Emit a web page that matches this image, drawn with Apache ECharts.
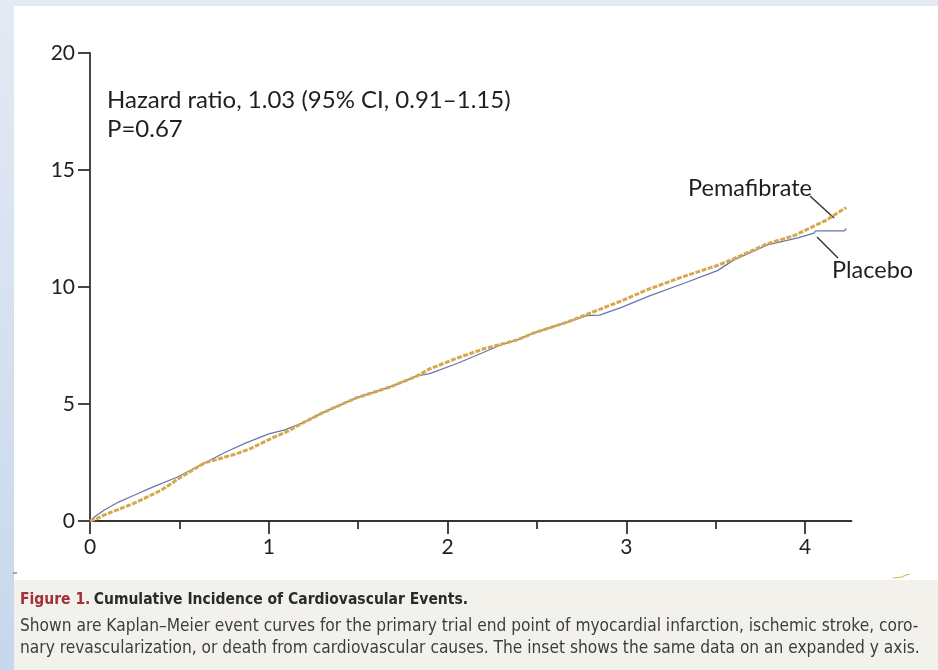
<!DOCTYPE html>
<html><head><meta charset="utf-8">
<script src="https://cdn.jsdelivr.net/npm/echarts@6/dist/echarts.min.js"></script>
<style>
html,body{margin:0;padding:0;width:938px;height:670px;overflow:hidden;background:linear-gradient(to bottom,#e4eaf3,#c7d7ec);}
#panel{position:absolute;left:14px;top:6px;width:924px;height:574px;background:#fff;}
#cap{position:absolute;left:14px;top:580px;width:924px;height:90px;background:#f3f1ec;}
#chart{position:absolute;left:0;top:0;width:938px;height:670px;}
</style></head><body>
<div id="panel"></div><div id="cap"></div><div id="chart"></div>
<script>
// Years since randomization and cumulative incidence (%)
const placeboYears = [0,0.03,0.08,0.16,0.25,0.35,0.49,0.64,0.76,0.87,1.0,1.09,1.19,1.30,1.49,1.68,1.83,1.90,2.05,2.20,2.29,2.39,2.48,2.67,2.78,2.85,2.97,3.13,3.32,3.51,3.60,3.79,3.96,4.05,4.06,4.22,4.23];
const placeboPct   = [0,0.2,0.47,0.81,1.11,1.45,1.88,2.48,2.95,3.33,3.72,3.89,4.19,4.62,5.26,5.73,6.2,6.3,6.72,7.2,7.5,7.74,8.03,8.5,8.78,8.8,9.12,9.62,10.15,10.7,11.15,11.8,12.1,12.3,12.4,12.4,12.5];
const pemaYears = [0,0.04,0.08,0.25,0.40,0.51,0.64,0.81,0.90,1.02,1.11,1.19,1.30,1.49,1.68,1.83,1.90,2.05,2.20,2.39,2.48,2.67,2.80,2.97,3.13,3.32,3.51,3.60,3.79,3.94,4.12,4.23];
const pemaPct   = [0,0.1,0.26,0.77,1.32,1.88,2.48,2.85,3.1,3.55,3.85,4.19,4.62,5.26,5.73,6.2,6.5,6.95,7.35,7.74,8.03,8.5,8.89,9.4,9.92,10.45,10.92,11.2,11.85,12.2,12.86,13.4];
const xMajorTicks = [0,1,2,3,4];
const xMinorTicks = [0.5,1.5,2.5,3.5];
const yTicks = [0,5,10,15,20];
const seriesNames = ['Placebo','Pemafibrate'];
const statLines = ['Hazard ratio, 1.03 (95% CI, 0.91\u20131.15)','P=0.67'];
const captionTitle = ['Figure 1.','Cumulative Incidence of Cardiovascular Events.'];
const captionBody = ['Shown are Kaplan\u2013Meier event curves for the primary trial end point of myocardial infarction, ischemic stroke, coro-',
  'nary revascularization, or death from cardiovascular causes. The inset shows the same data on an expanded y axis.'];

const zip = (a,b) => a.map((v,i)=>[v,b[i]]);
const AX = '#333333';
const F = 'Lato, "Noto Sans", sans-serif';
const CF = '"Liberation Sans Narrow","DejaVu Sans Condensed","Noto Sans",sans-serif';

const chart = echarts.init(document.getElementById('chart'), null, {renderer:'canvas'});
chart.setOption({
  animation:false,
  backgroundColor:'transparent',
  grid:{left:90, top:53, width:761.5, height:468, containLabel:false},
  xAxis:[{
    type:'value', min:0, max:4.26,
    axisLine:{show:true, lineStyle:{color:AX, width:1.8}},
    axisTick:{show:true, customValues:xMajorTicks, length:13, lineStyle:{color:AX, width:1.8}},
    axisLabel:{customValues:xMajorTicks, fontSize:21, fontFamily:F, color:'#1f1f1f', margin:16},
    splitLine:{show:false}
  },{
    type:'value', min:0, max:4.26, position:'bottom',
    axisLine:{show:false},
    axisTick:{show:true, customValues:xMinorTicks, length:8, lineStyle:{color:AX, width:1.8}},
    axisLabel:{show:false}, splitLine:{show:false}
  }],
  yAxis:{
    type:'value', min:0, max:20, interval:5,
    axisLine:{show:true, lineStyle:{color:AX, width:1.8}},
    axisTick:{show:true, length:12, lineStyle:{color:AX, width:1.8}},
    axisLabel:{fontSize:21, fontFamily:F, color:'#1f1f1f', margin:15},
    splitLine:{show:false}
  },
  series:[{
    name:seriesNames[0], type:'line', showSymbol:false, data:zip(placeboYears, placeboPct),
    lineStyle:{color:'#6676ad', width:1.3}, itemStyle:{color:'#6676ad'}, z:2
  },{
    name:seriesNames[1], type:'line', showSymbol:false, data:zip(pemaYears, pemaPct),
    lineStyle:{color:'#d6a84c', width:3, type:[5,1.5]}, itemStyle:{color:'#d6a84c'}, z:3
  }],
  graphic:[
    {type:'text', style:{text:statLines[0], x:107, y:100, verticalAlign:'middle', font:'24px '+F, fill:'#1f1f1f'}},
    {type:'text', style:{text:statLines[1], x:107, y:129, verticalAlign:'middle', font:'24px '+F, fill:'#1f1f1f'}},
    {type:'text', style:{text:seriesNames[1], x:812, y:188, align:'right', verticalAlign:'middle', font:'23.5px '+F, fill:'#1f1f1f'}},
    {type:'text', style:{text:seriesNames[0], x:832, y:270, verticalAlign:'middle', font:'23.5px '+F, fill:'#1f1f1f'}},
    {type:'line', shape:{x1:810,y1:196,x2:834,y2:218}, style:{stroke:'#333', lineWidth:1.5}},
    {type:'line', shape:{x1:817,y1:237,x2:838,y2:258}, style:{stroke:'#333', lineWidth:1.5}},
    {type:'polyline', shape:{points:[[893,578],[902,577],[906,575],[910,574]]}, style:{stroke:'#d6b060', lineWidth:1.2, fill:null}},
    {type:'line', shape:{x1:13,y1:573,x2:17,y2:573}, style:{stroke:'#555', lineWidth:1}},
    {type:'text', style:{
      text:'{r|'+captionTitle[0]+'} {b|'+captionTitle[1]+'}', x:20, y:600, verticalAlign:'middle',
      rich:{r:{fontFamily:CF, fontSize:15.5, fontWeight:'bold', fill:'#a2303a'}, b:{fontFamily:CF, fontSize:15.5, fontWeight:'bold', fill:'#2a2a2a'}}
    }},
    {type:'text', style:{text:captionBody[0], x:20, y:627, verticalAlign:'middle', font:'17.2px '+CF, fill:'#3d3d3d'}},
    {type:'text', style:{text:captionBody[1], x:20, y:649, verticalAlign:'middle', font:'17.2px '+CF, fill:'#3d3d3d'}}
  ]
});
</script></body></html>
